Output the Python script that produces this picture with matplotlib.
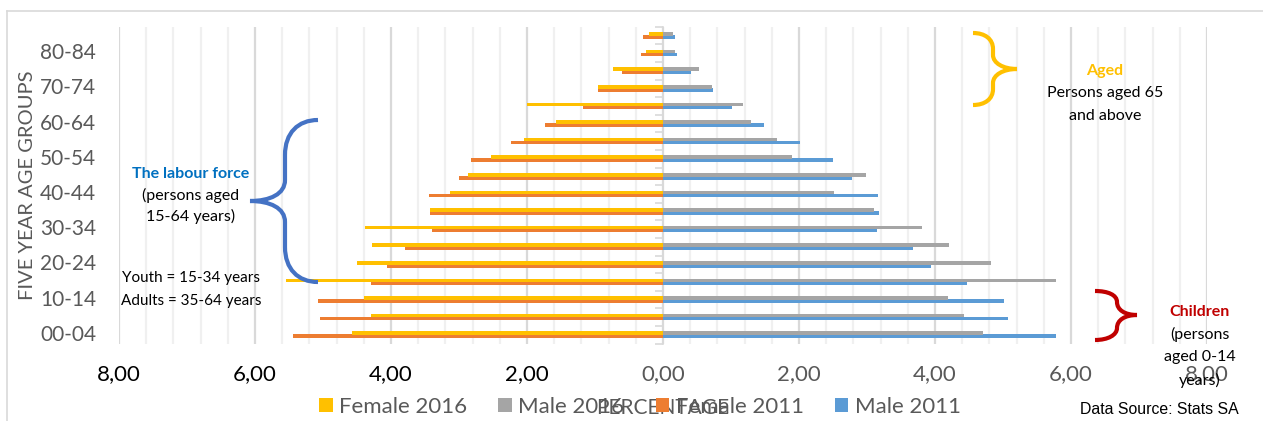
import numpy as np
import matplotlib
matplotlib.use("Agg")
import matplotlib.pyplot as plt
from matplotlib.path import Path
from matplotlib.patches import PathPatch, Patch
from matplotlib.lines import Line2D
import matplotlib.transforms as mtransforms

# age groups from bottom to top
groups = ["00-04", "05-09", "10-14", "15-19", "20-24", "25-29", "30-34", "35-39",
          "40-44", "45-49", "50-54", "55-59", "60-64", "65-69", "70-74", "75-79",
          "80-84", "85+"]

# percentages
female_2016 = [4.57, 4.30, 4.40, 5.55, 4.50, 4.28, 4.38, 3.43, 3.13, 2.87, 2.53, 2.05,
               1.58, 2.00, 0.96, 0.73, 0.25, 0.21]
male_2016 = [4.70, 4.43, 4.19, 5.78, 4.83, 4.21, 3.81, 3.11, 2.52, 2.99, 1.89, 1.67,
             1.30, 1.18, 0.72, 0.53, 0.18, 0.15]
female_2011 = [5.44, 5.05, 5.08, 4.30, 4.06, 3.80, 3.40, 3.43, 3.44, 3.00, 2.82, 2.24,
               1.74, 1.18, 0.95, 0.60, 0.32, 0.29]
male_2011 = [5.78, 5.07, 5.02, 4.47, 3.94, 3.68, 3.14, 3.18, 3.16, 2.78, 2.50, 2.01,
             1.48, 1.01, 0.73, 0.41, 0.21, 0.18]

series_names = ["Female 2016", "Male 2016", "Female 2011", "Male 2011"]
colors = ["#FFC000", "#A5A5A5", "#ED7D31", "#5B9BD5"]

W, H = 1263, 421
plt.rcParams["font.family"] = ["Lato", "DejaVu Sans"]

fig = plt.figure(figsize=(W / 100, H / 100), dpi=100)


def fx(px):
    return px / W


def fy(py):
    return 1 - py / H


ax = fig.add_axes([fx(119), fy(343.5), fx(1207) - fx(119), fy(26.7) - fy(343.5)])

y = np.arange(len(groups))
off = 0.085
bh = 0.21
ax.barh(y - off, -np.array(female_2011), height=bh, color=colors[2], zorder=3)
ax.barh(y - off, male_2011, height=bh, color=colors[3], zorder=3)
ax.barh(y + off, -np.array(female_2016), height=bh, color=colors[0], zorder=4)
ax.barh(y + off, male_2016, height=bh, color=colors[1], zorder=4)

ax.set_xlim(-8, 8)
ax.set_ylim(-0.5, len(groups) - 0.5)

# x axis: grid every 0.4, major every 2
ax.set_xticks(np.arange(-8, 8.01, 2))
ax.set_xticks(np.arange(-8, 8.01, 0.4), minor=True)
ax.grid(axis="x", which="minor", color="#F0F0F0", lw=1.6, zorder=0)
ax.grid(axis="x", which="major", color="#D9D9D9", lw=1.6, zorder=0)
ax.set_xticklabels([f"{abs(v):.2f}".replace(".", ",") for v in np.arange(-8, 8.01, 2)])
ax.tick_params(axis="x", which="both", length=0, pad=15, labelsize=16)
for lbl, v in zip(ax.get_xticklabels(), np.arange(-8, 8.01, 2)):
    lbl.set_color("#000000" if v < 0 else "#595959")

# y axis sits at zero with ticks between categories
for s in ["top", "right", "bottom"]:
    ax.spines[s].set_visible(False)
ax.spines["left"].set_position(("data", 0))
ax.spines["left"].set_color("#D9D9D9")
ax.spines["left"].set_linewidth(1.2)
ax.set_yticks(y)
ax.set_yticklabels([])
ax.set_yticks(np.arange(-0.5, len(groups), 1), minor=True)
ax.tick_params(axis="y", which="major", length=0)
ax.tick_params(axis="y", which="minor", length=6, width=1.2, color="#D9D9D9", direction="out")

trans = mtransforms.blended_transform_factory(ax.transAxes, ax.transData)
for i, g in enumerate(groups):
    if i % 2 == 0:
        ax.text(-0.021, i, g, transform=trans, ha="right", va="center",
                fontsize=15, color="#595959")

ax.set_ylabel("FIVE YEAR AGE GROUPS", fontsize=14.5, color="#595959")
ax.yaxis.set_label_coords(-0.084, 0.5)
ax.yaxis.label.set_va("center")

ax.set_xlabel("PERCENTAGE", fontsize=15, color="#595959")
ax.xaxis.set_label_coords(0.5, (343.5 - 408) / 316.8)
ax.xaxis.label.set_va("center")

handles = [Patch(facecolor=c, edgecolor="none") for c in colors]
leg = fig.legend(handles, series_names, loc="center", bbox_to_anchor=(fx(640), fy(407)),
                 ncol=4, frameon=False, fontsize=16, handlelength=0.6, handleheight=0.6,
                 handletextpad=0.3, columnspacing=1.4, borderaxespad=0)
for t in leg.get_texts():
    t.set_color("#595959")

# outer frame (top and left edges visible)
fig.add_artist(Line2D([fx(7), 1], [fy(11), fy(11)], transform=fig.transFigure,
                      color="#D9D9D9", lw=1.2))
fig.add_artist(Line2D([fx(7), fx(7)], [fy(11), 0], transform=fig.transFigure,
                      color="#D9D9D9", lw=1.2))


def brace(pts, color):
    codes = [Path.MOVETO]
    verts = [pts[0]]
    for seg in pts[1:]:
        if len(seg) == 3:
            codes += [Path.CURVE4] * 3
            verts += list(seg)
        else:
            codes.append(Path.LINETO)
            verts.append(seg[0])
    verts = [(fx(a), fy(b)) for a, b in verts]
    fig.add_artist(PathPatch(Path(verts, codes), fill=False, edgecolor=color, lw=3,
                             transform=fig.transFigure, capstyle="butt"))


# labour force brace
brace([(318, 120),
       ((298, 120), (285, 133), (285, 155)),
       ((285, 180),),
       ((285, 194), (270, 201), (250, 201)),
       ((270, 201), (285, 208), (285, 222)),
       ((285, 247),),
       ((285, 269), (298, 282), (318, 282))], "#4472C4")

# aged brace
brace([(973, 33),
       ((985, 33), (993, 39), (993, 49)),
       ((993, 55),),
       ((993, 63), (1003, 69), (1017, 69)),
       ((1003, 69), (993, 75), (993, 83)),
       ((993, 89),),
       ((993, 99), (985, 105), (973, 105))], "#FFC000")

# children brace
brace([(1095, 291),
       ((1108, 291), (1117, 295), (1117, 302)),
       ((1117, 310), (1125, 315), (1137, 315)),
       ((1125, 315), (1117, 320), (1117, 328)),
       ((1117, 335), (1108, 340), (1095, 340))], "#C00000")


def note(px, py, s, color="#000000", bold=False, size=11.5):
    fig.text(fx(px), fy(py), s, ha="center", va="center", fontsize=size, color=color,
             fontweight="bold" if bold else "normal", zorder=10)


note(191, 174, "The labour force", "#0070C0", True)
note(191, 195, "(persons aged")
note(191, 216, "15-64 years)")
note(191, 278, "Youth = 15-34 years", size=11)
note(191, 301, "Adults = 35-64 years", size=11)

note(1105, 71, "Aged", "#FFC000", True)
note(1105, 93, "Persons aged 65")
note(1105, 116, "and above")

note(1200, 312, "Children", "#C00000", True)
note(1200, 334, "(persons")
note(1200, 357, "aged 0-14")
note(1200, 380, "years)")

fig.text(fx(1159), fy(410), "Data Source: Stats SA", ha="center", va="center",
         fontsize=11.4, family=["Liberation Sans", "DejaVu Sans"], color="#000000")

fig.savefig("out.png", dpi=100)
